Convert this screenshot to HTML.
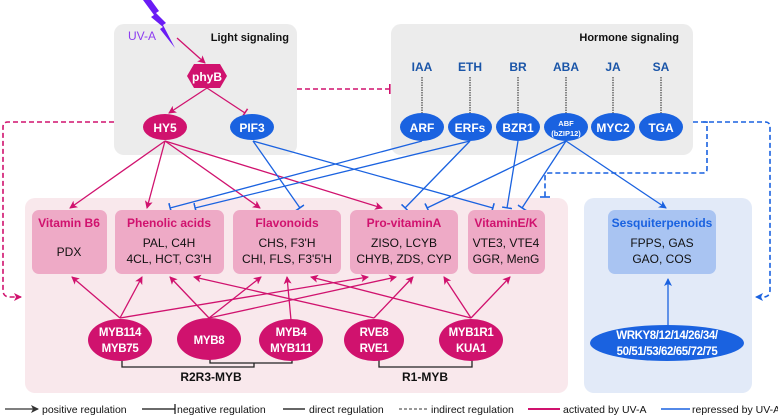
<!DOCTYPE html>
<html><head><meta charset="utf-8"><style>
body{margin:0;background:#fff}
svg{display:block;font-family:"Liberation Sans",Arial,sans-serif}
</style></head><body>
<svg width="778" height="415" viewBox="0 0 778 415" xmlns="http://www.w3.org/2000/svg">
<defs>
<marker id="ap" markerWidth="8" markerHeight="8" refX="7" refY="4" orient="auto" markerUnits="userSpaceOnUse"><path d="M0,0 L8,4 L0,8 L2,4z" fill="#d0126e"/></marker>
<marker id="ab" markerWidth="8" markerHeight="8" refX="7" refY="4" orient="auto" markerUnits="userSpaceOnUse"><path d="M0,0 L8,4 L0,8 L2,4z" fill="#1a62e0"/></marker>
<marker id="ak" markerWidth="8" markerHeight="8" refX="7" refY="4" orient="auto" markerUnits="userSpaceOnUse"><path d="M0,0 L8,4 L0,8 L2,4z" fill="#333"/></marker>
<marker id="tb" markerWidth="2" markerHeight="10" refX="1" refY="5" orient="auto" markerUnits="userSpaceOnUse"><rect x="0" y="0" width="1.6" height="10" fill="#1a62e0"/></marker>
<marker id="tp" markerWidth="2" markerHeight="10" refX="1" refY="5" orient="auto" markerUnits="userSpaceOnUse"><rect x="0" y="0" width="1.6" height="10" fill="#d0126e"/></marker>
</defs>
<rect x="114" y="24" width="183" height="131" rx="10" fill="#ececec"/>
<rect x="391" y="24" width="302" height="131" rx="10" fill="#ececec"/>
<rect x="25" y="198" width="543" height="195" rx="10" fill="#f9e8ec"/>
<rect x="584" y="198" width="168" height="195" rx="10" fill="#e2eaf8"/>
<text x="289" y="41" font-size="11" font-weight="bold" text-anchor="end" fill="#111">Light signaling</text>
<text x="679" y="41" font-size="11" font-weight="bold" text-anchor="end" fill="#111">Hormone signaling</text>
<polygon points="143,0 151,0 159,11 156,13 166,23 163,25 175,48 160,29 163,27 151,17 154,15" fill="#6a1cf5"/>
<text x="128" y="40" font-size="12" fill="#8d3cf0">UV-A</text>
<path d="M297,89 L390,89" stroke="#d0126e" stroke-width="1.6" stroke-dasharray="5,3" fill="none" marker-end="url(#tp)"/>
<path d="M114,122 L8,122 Q3,122 3,127 L3,290 Q3,297 10,297 L21,297" stroke="#d0126e" stroke-width="1.6" stroke-dasharray="5,3" fill="none" marker-end="url(#ap)"/>
<path d="M693,122 L765,122 Q770,122 770,127 L770,290 Q770,297 763,297 L756,297" stroke="#1a62e0" stroke-width="1.6" stroke-dasharray="5,3" fill="none" marker-end="url(#ab)"/>
<path d="M703,122 L707,122 L707,169 Q707,173 703,173 L549,173 Q545,173 545,177 L545,197" stroke="#1a62e0" stroke-width="1.6" stroke-dasharray="5,3" fill="none"/>
<path d="M540,197 L550,197" stroke="#1a62e0" stroke-width="1.6"/>
<line x1="177" y1="38" x2="205" y2="63" stroke="#d0126e" stroke-width="1.3" marker-end="url(#ap)"/>
<line x1="207" y1="88" x2="169" y2="113" stroke="#d0126e" stroke-width="1.3" marker-end="url(#ap)"/>
<line x1="207" y1="88" x2="245" y2="113" stroke="#d0126e" stroke-width="1.3" marker-end="url(#tp)"/>
<g stroke="#222" stroke-width="1" stroke-dasharray="1.5,1">
<line x1="422" y1="77" x2="422" y2="114"/><line x1="470" y1="77" x2="470" y2="114"/><line x1="518" y1="77" x2="518" y2="114"/><line x1="566" y1="77" x2="566" y2="114"/><line x1="613" y1="77" x2="613" y2="114"/><line x1="661" y1="77" x2="661" y2="114"/>
</g>
<g stroke="#d0126e" stroke-width="1.3" fill="none">
<line x1="165" y1="141" x2="70" y2="208" marker-end="url(#ap)"/>
<line x1="165" y1="141" x2="147" y2="208" marker-end="url(#ap)"/>
<line x1="165" y1="141" x2="260" y2="208" marker-end="url(#ap)"/>
<line x1="165" y1="141" x2="382" y2="208" marker-end="url(#ap)"/>
</g>
<g stroke="#1a62e0" stroke-width="1.3" fill="none">
<line x1="253" y1="141" x2="300" y2="208" marker-end="url(#tb)"/>
<line x1="253" y1="141" x2="493" y2="208" marker-end="url(#tb)"/>
<line x1="422" y1="141" x2="170" y2="208" marker-end="url(#tb)"/>
<line x1="470" y1="141" x2="195" y2="208" marker-end="url(#tb)"/>
<line x1="470" y1="141" x2="405" y2="208" marker-end="url(#tb)"/>
<line x1="518" y1="141" x2="507" y2="208" marker-end="url(#tb)"/>
<line x1="566" y1="141" x2="427" y2="208" marker-end="url(#tb)"/>
<line x1="566" y1="141" x2="522" y2="208" marker-end="url(#tb)"/>
<line x1="566" y1="141" x2="666" y2="208" marker-end="url(#ab)"/>
<line x1="668" y1="326" x2="668" y2="279" marker-end="url(#ab)"/>
</g>
<polygon points="187,76 194,64 220,64 227,76 220,88 194,88" fill="#d0126e"/>
<text x="207" y="81" font-size="12" font-weight="bold" fill="#fff" text-anchor="middle">phyB</text>
<ellipse cx="165" cy="127" rx="22" ry="13" fill="#d0126e"/>
<text x="165" y="132" font-size="12" font-weight="bold" fill="#fff" text-anchor="middle">HY5</text>
<ellipse cx="252" cy="127" rx="22" ry="13" fill="#1a62e0"/>
<text x="252" y="132" font-size="12" font-weight="bold" fill="#fff" text-anchor="middle">PIF3</text>
<g font-size="12" font-weight="bold" fill="#1a55a8" text-anchor="middle">
<text x="422" y="71">IAA</text><text x="470" y="71">ETH</text><text x="518" y="71">BR</text><text x="566" y="71">ABA</text><text x="613" y="71">JA</text><text x="661" y="71">SA</text>
</g>
<g fill="#1a62e0">
<ellipse cx="422" cy="127" rx="22" ry="14"/><ellipse cx="470" cy="127" rx="22" ry="14"/><ellipse cx="518" cy="127" rx="22" ry="14"/><ellipse cx="566" cy="127" rx="22" ry="14"/><ellipse cx="613" cy="127" rx="22" ry="14"/><ellipse cx="661" cy="127" rx="22" ry="14"/>
</g>
<g font-size="12" font-weight="bold" fill="#fff" text-anchor="middle">
<text x="422" y="132">ARF</text><text x="470" y="132">ERFs</text><text x="518" y="132">BZR1</text><text x="613" y="132">MYC2</text><text x="661" y="132">TGA</text>
<text x="566" y="126" font-size="7.5">ABF</text><text x="566" y="136" font-size="7.5">(bZIP12)</text>
</g>
<g fill="#eeaac6">
<rect x="32" y="210" width="75" height="64" rx="7"/>
<rect x="115" y="210" width="109" height="64" rx="7"/>
<rect x="233" y="210" width="108" height="64" rx="7"/>
<rect x="350" y="210" width="108" height="64" rx="7"/>
<rect x="468" y="210" width="77" height="64" rx="7"/>
</g>
<rect x="608" y="210" width="108" height="64" rx="7" fill="#a9c4f2"/>
<g font-size="12" font-weight="bold" text-anchor="middle" fill="#d0126e">
<text x="69" y="227">Vitamin B6</text><text x="169" y="227">Phenolic acids</text><text x="287" y="227">Flavonoids</text><text x="404" y="227">Pro-vitaminA</text><text x="506" y="227">VitaminE/K</text>
<text x="662" y="227" fill="#1a62e0">Sesquiterpenoids</text>
</g>
<g font-size="12" text-anchor="middle" fill="#111">
<text x="69" y="256">PDX</text>
<text x="169" y="247">PAL, C4H</text><text x="169" y="263">4CL, HCT, C3'H</text>
<text x="287" y="247">CHS, F3'H</text><text x="287" y="263">CHI, FLS, F3'5'H</text>
<text x="404" y="247">ZISO, LCYB</text><text x="404" y="263">CHYB, ZDS, CYP</text>
<text x="506" y="247">VTE3, VTE4</text><text x="506" y="263">GGR, MenG</text>
<text x="662" y="247">FPPS, GAS</text><text x="662" y="263">GAO, COS</text>
</g>
<g stroke="#d0126e" stroke-width="1.3" fill="none">
<line x1="120" y1="318" x2="72" y2="277" marker-end="url(#ap)"/>
<line x1="120" y1="318" x2="142" y2="277" marker-end="url(#ap)"/>
<line x1="120" y1="318" x2="368" y2="277" marker-end="url(#ap)"/>
<line x1="209" y1="318" x2="170" y2="277" marker-end="url(#ap)"/>
<line x1="209" y1="318" x2="261" y2="277" marker-end="url(#ap)"/>
<line x1="209" y1="318" x2="396" y2="277" marker-end="url(#ap)"/>
<line x1="291" y1="320" x2="287" y2="277" marker-end="url(#ap)"/>
<line x1="374" y1="318" x2="194" y2="277" marker-end="url(#ap)"/>
<line x1="374" y1="318" x2="413" y2="277" marker-end="url(#ap)"/>
<line x1="471" y1="318" x2="311" y2="277" marker-end="url(#ap)"/>
<line x1="471" y1="318" x2="444" y2="277" marker-end="url(#ap)"/>
<line x1="471" y1="318" x2="510" y2="277" marker-end="url(#ap)"/>
</g>
<g stroke="#222" stroke-width="1.3" fill="none">
<path d="M122,356 L122,367 L254,367 L254,363"/>
<path d="M210,355 L210,363 L292,363 L292,356"/>
<path d="M379,356 L379,367 L472,367 L472,356"/>
</g>
<g fill="#d0126e">
<ellipse cx="120" cy="340" rx="32" ry="21"/>
<ellipse cx="209" cy="339" rx="32" ry="21"/>
<ellipse cx="291" cy="340" rx="32" ry="21"/>
<ellipse cx="374" cy="340" rx="30" ry="21"/>
<ellipse cx="471" cy="340" rx="32" ry="21"/>
</g>
<g font-size="11.5" font-weight="bold" fill="#fff" text-anchor="middle" letter-spacing="-0.3">
<text x="120" y="336">MYB114</text><text x="120" y="352">MYB75</text>
<text x="209" y="344">MYB8</text>
<text x="291" y="336">MYB4</text><text x="291" y="352">MYB111</text>
<text x="374" y="336">RVE8</text><text x="374" y="352">RVE1</text>
<text x="471" y="336">MYB1R1</text><text x="471" y="352">KUA1</text>
</g>
<g font-size="12" font-weight="bold" fill="#111" text-anchor="middle">
<text x="211" y="381">R2R3-MYB</text><text x="425" y="381">R1-MYB</text>
</g>
<ellipse cx="667" cy="343" rx="77" ry="18" fill="#1a62e0"/>
<g font-size="11.5" font-weight="bold" fill="#fff" text-anchor="middle" letter-spacing="-0.4">
<text x="667" y="339">WRKY8/12/14/26/34/</text><text x="667" y="355">50/51/53/62/65/72/75</text>
</g>
<g font-size="10.5" fill="#111">
<line x1="5" y1="409" x2="38" y2="409" stroke="#333" stroke-width="1.3" marker-end="url(#ak)"/>
<text x="42" y="413">positive regulation</text>
<line x1="142" y1="409" x2="175" y2="409" stroke="#111" stroke-width="1.2"/><line x1="175" y1="404" x2="175" y2="414" stroke="#111" stroke-width="1.2"/>
<text x="177" y="413">negative regulation</text>
<line x1="283" y1="409" x2="305" y2="409" stroke="#666" stroke-width="2"/>
<text x="309" y="413">direct regulation</text>
<line x1="399" y1="409" x2="428" y2="409" stroke="#333" stroke-width="1" stroke-dasharray="3,2"/>
<text x="431" y="413">indirect regulation</text>
<line x1="528" y1="409" x2="560" y2="409" stroke="#d0126e" stroke-width="2"/>
<text x="563" y="413">activated by UV-A</text>
<line x1="661" y1="409" x2="690" y2="409" stroke="#1a62e0" stroke-width="1.5"/>
<text x="692" y="413">repressed by UV-A</text>
</g>
</svg>
</body></html>
